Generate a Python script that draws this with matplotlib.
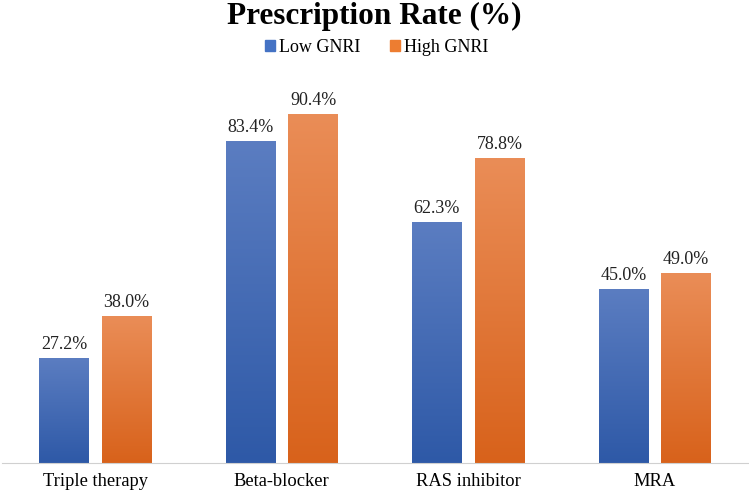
import numpy as np
import matplotlib.pyplot as plt
from matplotlib.colors import LinearSegmentedColormap
from matplotlib.patches import Patch

plt.rcParams['font.family'] = ['Liberation Serif', 'DejaVu Serif']

categories = ['Triple therapy', 'Beta-blocker', 'RAS inhibitor', 'MRA']
low_gnri = [27.2, 83.4, 62.3, 45.0]
high_gnri = [38.0, 90.4, 78.8, 49.0]

blue_cmap = LinearSegmentedColormap.from_list('b', ['#2e59a7', '#5b7dc1'])
orange_cmap = LinearSegmentedColormap.from_list('o', ['#d8621b', '#ea8d57'])

fig = plt.figure(figsize=(7.49, 4.95), dpi=100)
ax = fig.add_axes([2/749, 32/495, 746/749, 386/495])

x = np.arange(len(categories))
w = 0.267
off = 0.168
grad = np.linspace(0, 1, 256).reshape(-1, 1)

for vals, xs, cmap in [(low_gnri, x - off, blue_cmap), (high_gnri, x + off, orange_cmap)]:
    bars = ax.bar(xs, vals, width=w, color='none', edgecolor='none')
    for b, v in zip(bars, vals):
        x0 = b.get_x()
        ax.imshow(grad, cmap=cmap, origin='lower', aspect='auto',
                  extent=[x0, x0 + b.get_width(), 0, v], zorder=2)
        ax.text(b.get_x() + b.get_width() / 2, v + 1.4, f'{v:.1f}%',
                ha='center', va='bottom', fontsize=13, color='#222222')

ax.set_xlim(-0.5, 3.5)
ax.set_ylim(0, 100)
ax.set_xticks(x)
ax.set_xticklabels(categories, fontsize=13.3)
ax.tick_params(axis='x', length=0, pad=7)
ax.set_yticks([])
for s in ['top', 'right', 'left']:
    ax.spines[s].set_visible(False)
ax.spines['bottom'].set_color('#d0d0d0')

fig.text(0.5, 0.967, 'Prescription Rate (%)', ha='center', va='center',
         fontsize=22.5, fontweight='bold')
handles = [Patch(color='#4472c4', label='Low GNRI'), Patch(color='#ed7d31', label='High GNRI')]
fig.legend(handles=handles, loc='center', bbox_to_anchor=(0.503, 0.905), ncol=2,
           frameon=False, fontsize=13, handlelength=0.55, handleheight=0.55,
           handletextpad=0.25, columnspacing=1.6)

fig.savefig('out.png', dpi=100)
